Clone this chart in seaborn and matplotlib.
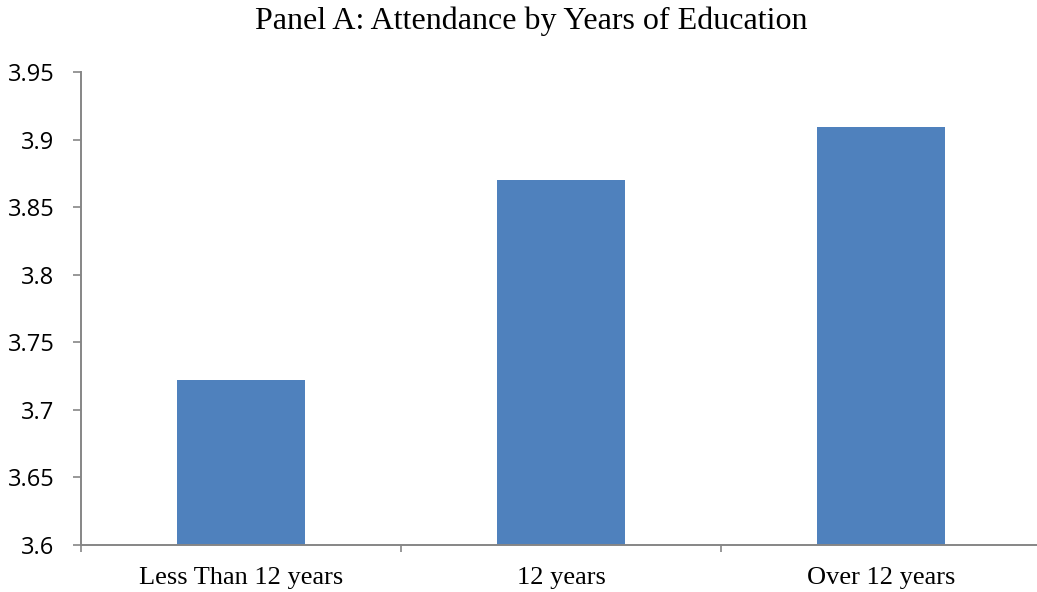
import matplotlib
matplotlib.use("Agg")
import matplotlib.pyplot as plt
import seaborn as sns
import pandas as pd
from matplotlib.ticker import FixedLocator

categories = ["Less Than 12 years", "12 years", "Over 12 years"]
values = [3.722, 3.870, 3.909]
yticks = [3.6, 3.65, 3.7, 3.75, 3.8, 3.85, 3.9, 3.95]
ytick_labels = ["3.6", "3.65", "3.7", "3.75", "3.8", "3.85", "3.9", "3.95"]
title = "Panel A: Attendance by Years of Education"

sns.set_style("white")
df = pd.DataFrame({"cat": categories, "val": values})

W, H = 1037, 592
fig = plt.figure(figsize=(W / 100, H / 100), dpi=100)
ax = fig.add_axes([81 / W, 47 / H, 960 / W, 473 / H])

sns.barplot(data=df, x="cat", y="val", color="#4F81BD", saturation=1,
            width=0.4, ax=ax, edgecolor="none")

ax.set_ylim(3.6, 3.95)
ax.set_xlim(-0.5, 2.5)
ax.set_yticks(yticks)
ax.set_yticklabels(ytick_labels, fontfamily="Open Sans", fontsize=17, color="black")
ax.set_xticks([0, 1, 2])
ax.set_xticklabels(categories, fontfamily="Liberation Serif", fontsize=19, color="black")
ax.tick_params(axis="x", which="major", length=0, pad=16, bottom=True)
ax.xaxis.set_minor_locator(FixedLocator([-0.5, 0.5, 1.5, 2.5]))
ax.tick_params(axis="x", which="minor", length=5, width=1.2, color="#868686",
               direction="out", bottom=True)
ax.tick_params(axis="y", length=6, width=1.2, color="#868686", direction="out",
               pad=13, left=True)
ax.set_xlabel("")
ax.set_ylabel("")

for s in ["top", "right"]:
    ax.spines[s].set_visible(False)
for s in ["left", "bottom"]:
    ax.spines[s].set_visible(True)
    ax.spines[s].set_color("#868686")
    ax.spines[s].set_linewidth(1.4)

fig.text(531 / W, 1 - 21 / H, title, ha="center", va="center",
         fontfamily="Liberation Serif", fontsize=23, color="black")

fig.savefig("out.png", dpi=100, facecolor="white")
